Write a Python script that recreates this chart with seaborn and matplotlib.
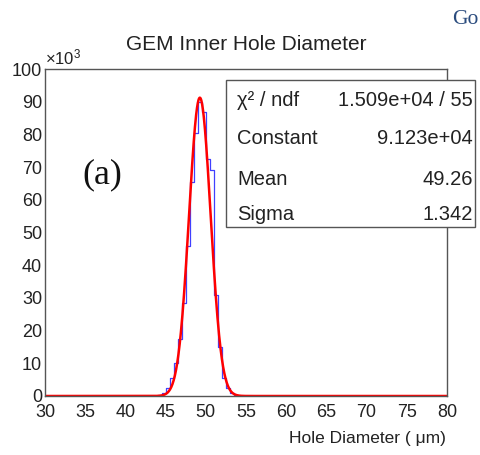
import numpy as np
import pandas as pd
import matplotlib
matplotlib.use("Agg")
import matplotlib.pyplot as plt
from matplotlib.ticker import MultipleLocator, AutoMinorLocator
from matplotlib.patches import Rectangle
import seaborn as sns

# ---- data ----
x_min, x_max, bin_width = 30.0, 80.0, 0.5
first_bin_lo = 44.0
counts_k = [0.3, 0.8, 2.5, 5.5, 10.0, 17.5, 28.5, 46.0, 65.5, 80.5,
            90.0, 87.0, 72.5, 69.0, 31.0, 15.0, 5.5, 2.4, 0.8, 0.3, 0.1]  # x10^3 entries
fit_constant_k = 91.23
fit_mean = 49.26
fit_sigma = 1.342
stat_labels = ["χ² / ndf", "Constant", "Mean", "Sigma"]
stat_values = ["1.509e+04 / 55", "9.123e+04", "49.26", "1.342"]
title = "GEM Inner Hole Diameter"
xlabel = "Hole Diameter ( μm)"
x_ticks = [30, 35, 40, 45, 50, 55, 60, 65, 70, 75, 80]
y_ticks = [0, 10, 20, 30, 40, 50, 60, 70, 80, 90, 100]

# ---- build histogram table ----
n_bins = int(round((x_max - x_min) / bin_width))
centers = x_min + bin_width * (np.arange(n_bins) + 0.5)
weights = np.zeros(n_bins)
start = int(round((first_bin_lo - x_min) / bin_width))
weights[start:start + len(counts_k)] = counts_k
hist_df = pd.DataFrame({"x": centers, "w": weights})

xf = np.linspace(x_min, x_max, 1001)
fit_df = pd.DataFrame({"x": xf,
                       "y": fit_constant_k * np.exp(-0.5 * ((xf - fit_mean) / fit_sigma) ** 2)})

sns.set_style("white")
plt.rcParams["font.family"] = ["Liberation Sans", "DejaVu Sans"]
plt.rcParams["mathtext.fontset"] = "custom"
plt.rcParams["mathtext.rm"] = "Liberation Sans"
plt.rcParams["mathtext.it"] = "Liberation Sans"
plt.rcParams["mathtext.default"] = "regular"

W, H = 481, 455
fig = plt.figure(figsize=(W / 100, H / 100), dpi=100)
ax = fig.add_axes([45 / W, 1 - 396 / H, (447 - 45) / W, (396 - 69) / H])

sns.histplot(data=hist_df, x="x", weights="w", binwidth=bin_width,
             binrange=(x_min, x_max), element="step",
             fill=False, color="#4040ff", linewidth=0.9, ax=ax)
sns.lineplot(data=fit_df, x="x", y="y", color="#ff0000", linewidth=1.8, ax=ax)

ax.set_xlim(x_min, x_max)
ax.set_ylim(0, 100)
ax.set_xticks(x_ticks)
ax.set_yticks(y_ticks)
ax.xaxis.set_minor_locator(MultipleLocator(1))
ax.yaxis.set_minor_locator(AutoMinorLocator(5))
ax.tick_params(axis="both", which="both", direction="in", top=False, right=False,
               color="#555555", labelsize=13, labelcolor="#222222")
ax.tick_params(axis="x", which="major", length=10, pad=6)
ax.tick_params(axis="x", which="minor", length=5)
ax.tick_params(axis="y", which="major", length=11, pad=2)
ax.tick_params(axis="y", which="minor", length=5)
ax.set_xlabel("")
ax.set_ylabel("")
for s in ax.spines.values():
    s.set_color("#555555")
    s.set_linewidth(1.0)

fig.text(246 / W, 1 - 45 / H, title, ha="center", va="center", fontsize=15, color="#222222")
ax.text(0.0, 1.005, r"$\times$10$^{3}$", transform=ax.transAxes, ha="left", va="bottom",
        fontsize=12, color="#222222")
fig.text(446 / W, 1 - 438 / H, xlabel, ha="right", va="center", fontsize=12.5, color="#222222")

# stats box
bx0, by0, bx1, by1 = 226, 80, 475, 227
fig.patches.append(Rectangle((bx0 / W, 1 - by1 / H), (bx1 - bx0) / W, (by1 - by0) / H,
                             transform=fig.transFigure, facecolor="white",
                             edgecolor="#555555", linewidth=1.0, zorder=5))
row_y = [101, 139, 180, 215]
for lab, val, yy in zip(stat_labels, stat_values, row_y):
    fig.text(237 / W, 1 - yy / H, lab, ha="left", va="center", fontsize=14.5,
             color="#222222", zorder=6)
    fig.text(473 / W, 1 - yy / H, val, ha="right", va="center", fontsize=14.5,
             color="#222222", zorder=6)

fig.text(102 / W, 1 - 175 / H, "(a)", ha="center", va="center", fontsize=26,
         family=["Liberation Serif", "DejaVu Serif"], color="#111111")
fig.text(479 / W, 1 - 20 / H, "Go", ha="right", va="center", fontsize=15.5,
         color="#2b4c7e", family=["Liberation Serif", "DejaVu Serif"])

fig.savefig("out.png", dpi=100)
